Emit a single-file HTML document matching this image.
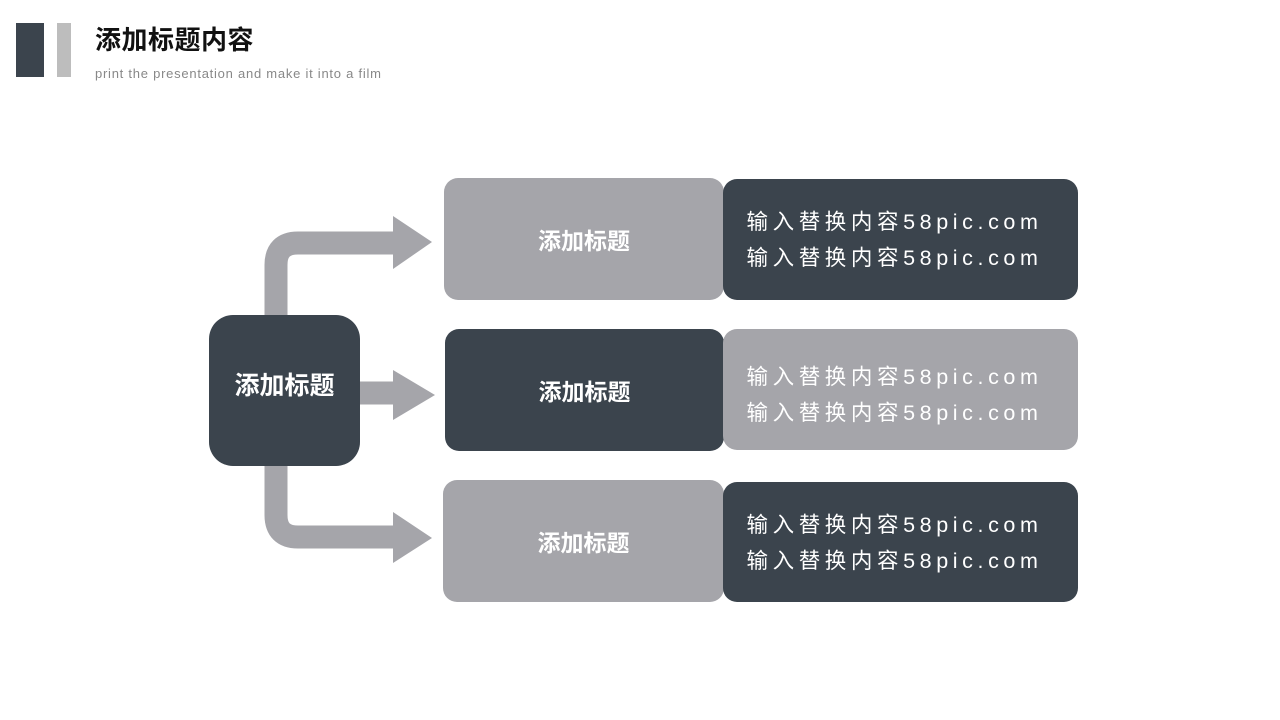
<!DOCTYPE html>
<html><head><meta charset="utf-8"><style>
body{margin:0;width:1280px;height:720px;background:#fff;position:relative;overflow:hidden;font-family:"Liberation Sans","Noto Sans CJK SC",sans-serif}
.a{position:absolute}
.box{position:absolute;border-radius:14px;display:flex;align-items:center;justify-content:center;color:#fff}
.t{font-size:23px;font-weight:bold}
.d{flex-direction:column;font-size:21.5px;letter-spacing:4.6px;line-height:36px;box-sizing:border-box;padding-right:12px}
.g{background:#a5a5aa}.k{background:#3b444d}
</style></head><body>
<div class="a" style="left:16px;top:23px;width:28px;height:54px;background:#3b444d"></div>
<div class="a" style="left:57px;top:23px;width:14px;height:54px;background:#bdbdbd"></div>
<div class="a" style="left:95px;top:20px;font-size:26px;font-weight:bold;color:#111;letter-spacing:0.5px">添加标题内容</div>
<div class="a" style="left:95px;top:66px;font-size:13px;color:#888;letter-spacing:0.75px">print the presentation and make it into a film</div>
<svg class="a" style="left:0;top:0" width="1280" height="720">
<g fill="none" stroke="#a5a5aa" stroke-width="23">
<path d="M276 320 V265 Q276 243 298 243 H396"/>
<path d="M276 460 V515 Q276 537 298 537 H396"/>
<path d="M355 393 H396"/>
</g>
<g fill="#a5a5aa">
<polygon points="393,216 432,242 393,269"/>
<polygon points="393,370 435,395 393,420"/>
<polygon points="393,512 432,538 393,563"/>
</g>
</svg>
<div class="box k t" style="left:209px;top:315px;width:151px;height:151px;border-radius:24px;font-size:25px;padding-bottom:14px;box-sizing:border-box">添加标题</div>
<div class="box g t" style="left:444px;top:178px;width:280px;height:122px">添加标题</div>
<div class="box k d" style="left:723px;top:179px;width:355px;height:121px"><div>输入替换内容58pic.com</div><div>输入替换内容58pic.com</div></div>
<div class="box k t" style="left:445px;top:329px;width:279px;height:122px">添加标题</div>
<div class="box g d" style="left:723px;top:329px;width:355px;height:121px;padding-top:10px"><div>输入替换内容58pic.com</div><div>输入替换内容58pic.com</div></div>
<div class="box g t" style="left:443px;top:480px;width:281px;height:122px">添加标题</div>
<div class="box k d" style="left:723px;top:482px;width:355px;height:120px;padding-top:2px"><div>输入替换内容58pic.com</div><div>输入替换内容58pic.com</div></div>
</body></html>
